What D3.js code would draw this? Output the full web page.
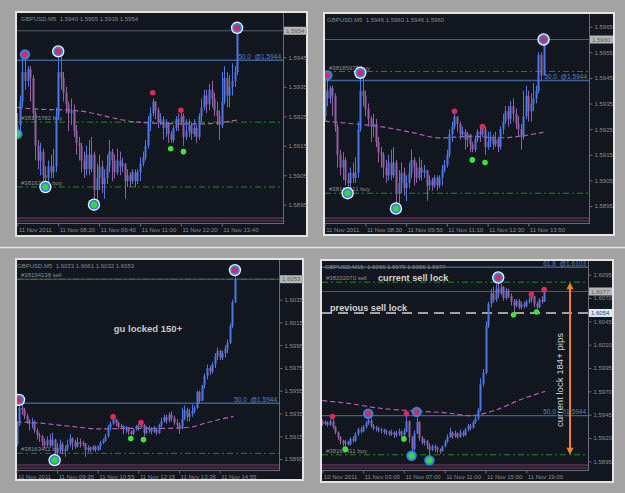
<!DOCTYPE html>
<html><head><meta charset="utf-8">
<script src="https://cdn.jsdelivr.net/npm/d3@7/dist/d3.min.js"></script>
<style>
body{margin:0;background:#a3a3a3;}
svg{display:block}
text{white-space:pre}
</style>
</head><body>
<svg id="c" width="625" height="493"></svg>
<script>
// ---------- DATA ----------
// GBPUSD M5 series (shared by the three M5 screenshots), bar 0 = 11 Nov 07:00
const m5Open0 = 1.5920;
const m5Close = [1.5922,1.5930,1.5940,1.5937,1.5941,1.5938,1.5926,1.5915,1.5910,1.5913,
1.5905,1.5904,1.5908,1.5906,1.5908,1.5925,1.5940,1.5938,1.5933,1.5929,
1.5926,1.5927,1.5920,1.5916,1.5915,1.5910,1.5907,1.5912,1.5907,1.5912,
1.5900,1.5904,1.5908,1.5902,1.5904,1.5908,1.5913,1.5910,1.5906,1.5910,
1.5908,1.5909,1.5903,1.5905,1.5903,1.5906,1.5903,1.5906,1.5909,1.5911,
1.5915,1.5923,1.5926,1.5930,1.5927,1.5923,1.5924,1.5921,1.5923,1.5919,
1.5917,1.5921,1.5924,1.5923,1.5925,1.5918,1.5920,1.5922,1.5919,1.5921,
1.5918,1.5925,1.5928,1.5932,1.5929,1.5934,1.5931,1.5927,1.5925,1.5922,
1.5930,1.5938,1.5932,1.5935,1.5937,1.5940,1.5954,1.5946,1.5960,1.5968,
1.5975,1.5972,1.5978,1.5985,1.5990,1.5984,1.5988,1.5992,1.5997,1.6012,
1.6033,1.6053];
const m5High = [1.5926,1.5932,1.5946,1.5946,1.5942,1.5942,1.5939,1.5927,1.5917,1.5916,
1.5914,1.5908,1.5910,1.5912,1.5914,1.5928,1.5946,1.5947,1.5940,1.5935,
1.5930,1.5931,1.5929,1.5922,1.5918,1.5916,1.5913,1.5915,1.5917,1.5918,
1.5913,1.5909,1.5912,1.5910,1.5907,1.5912,1.5917,1.5914,1.5912,1.5914,
1.5913,1.5911,1.5909,1.5907,1.5906,1.5907,1.5907,1.5907,1.5911,1.5913,
1.5917,1.5925,1.5928,1.5931,1.5930,1.5928,1.5926,1.5925,1.5924,1.5923,
1.5920,1.5922,1.5925,1.5926,1.5926,1.5926,1.5924,1.5924,1.5923,1.5924,
1.5922,1.5926,1.5931,1.5934,1.5934,1.5936,1.5937,1.5933,1.5930,1.5927,
1.5940,1.5942,1.5940,1.5939,1.5943,1.5942,1.5955,1.5955,1.5960,1.5970,
1.5978,1.5977,1.5980,1.5988,1.5993,1.5991,1.5990,1.5995,1.6000,1.6014,
1.6035,1.6061];
const m5Low = [1.5919,1.5920,1.5928,1.5934,1.5935,1.5930,1.5924,1.5910,1.5907,1.5905,
1.5903,1.5901,1.5902,1.5904,1.5904,1.5906,1.5924,1.5934,1.5930,1.5926,
1.5920,1.5922,1.5918,1.5912,1.5910,1.5906,1.5904,1.5905,1.5905,1.5906,
1.5895,1.5896,1.5900,1.5899,1.5897,1.5902,1.5906,1.5903,1.5904,1.5905,
1.5905,1.5906,1.5897,1.5901,1.5901,1.5902,1.5901,1.5902,1.5903,1.5908,
1.5910,1.5914,1.5920,1.5925,1.5924,1.5921,1.5922,1.5917,1.5918,1.5916,
1.5916,1.5916,1.5920,1.5920,1.5922,1.5915,1.5917,1.5918,1.5917,1.5918,
1.5916,1.5917,1.5923,1.5927,1.5926,1.5927,1.5928,1.5925,1.5922,1.5917,
1.5921,1.5929,1.5928,1.5928,1.5932,1.5935,1.5939,1.5944,1.5946,1.5957,
1.5965,1.5969,1.5970,1.5975,1.5982,1.5982,1.5982,1.5984,1.5988,1.5996,
1.6010,1.6032];

// GBPUSD M15 series, bar 0 = 10 Nov 23:00
const m15Open0 = 1.5938;
const m15Close = [1.5935,1.5937,1.5934,1.5938,1.5932,1.5926,1.5921,1.5917,1.5914,1.5916,
1.5913,1.5919,1.5917,1.5924,1.5929,1.5927,1.5932,1.5936,1.5939,1.5933,
1.5930,1.5931,1.5928,1.5929,1.5926,1.5927,1.5924,1.5926,1.5923,1.5925,
1.5927,1.5923,1.5927,1.5938,1.5921,1.5908,1.5925,1.5937,1.5920,1.5915,
1.5917,1.5912,1.5907,1.5911,1.5909,1.5907,1.5906,1.5911,1.5916,1.5921,
1.5926,1.5922,1.5925,1.5921,1.5926,1.5923,1.5929,1.5933,1.5931,1.5937,
1.5941,1.5950,1.5978,1.5990,1.6040,1.6064,1.6075,1.6068,1.6080,1.6075,
1.6082,1.6070,1.6078,1.6072,1.6066,1.6062,1.6067,1.6060,1.6063,1.6061,
1.6066,1.6068,1.6072,1.6064,1.6060,1.6068,1.6066,1.6077];
const m15High = [1.5940,1.5939,1.5938,1.5940,1.5941,1.5933,1.5927,1.5922,1.5918,1.5918,
1.5917,1.5921,1.5922,1.5926,1.5931,1.5932,1.5934,1.5938,1.5945,1.5941,
1.5935,1.5933,1.5932,1.5931,1.5930,1.5929,1.5928,1.5929,1.5927,1.5928,
1.5930,1.5928,1.5930,1.5943,1.5939,1.5922,1.5928,1.5945,1.5938,1.5922,
1.5919,1.5918,1.5914,1.5913,1.5913,1.5911,1.5909,1.5912,1.5918,1.5924,
1.5931,1.5927,1.5928,1.5926,1.5929,1.5928,1.5931,1.5935,1.5935,1.5939,
1.5944,1.5952,1.5984,1.5994,1.6045,1.6066,1.6080,1.6082,1.6085,1.6092,
1.6085,1.6083,1.6081,1.6080,1.6075,1.6069,1.6069,1.6069,1.6066,1.6066,
1.6068,1.6071,1.6074,1.6072,1.6066,1.6070,1.6072,1.6079];
const m15Low = [1.5933,1.5934,1.5932,1.5933,1.5930,1.5924,1.5918,1.5913,1.5911,1.5911,
1.5912,1.5912,1.5915,1.5916,1.5922,1.5925,1.5926,1.5930,1.5934,1.5931,
1.5928,1.5927,1.5926,1.5925,1.5924,1.5923,1.5922,1.5922,1.5920,1.5921,
1.5922,1.5921,1.5921,1.5926,1.5915,1.5903,1.5906,1.5924,1.5917,1.5913,
1.5912,1.5908,1.5899,1.5906,1.5905,1.5904,1.5903,1.5905,1.5910,1.5915,
1.5920,1.5919,1.5920,1.5919,1.5920,1.5921,1.5922,1.5927,1.5928,1.5930,
1.5935,1.5939,1.5948,1.5975,1.5988,1.6038,1.6060,1.6065,1.6066,1.6070,
1.6073,1.6067,1.6068,1.6070,1.6062,1.6055,1.6060,1.6058,1.6058,1.6059,
1.6060,1.6064,1.6065,1.6060,1.6057,1.6059,1.6064,1.6066];

// visible bar ranges [first, last]
const p1Range = [0, 86], p2Range = [2, 88], p3Range = [15, 101], p4Range = [0, 87];

// price axis ticks (the tick hidden under the last-price box is left out)
const p1PriceTicks = [1.5945,1.5935,1.5925,1.5915,1.5905,1.5895];
const p2PriceTicks = [1.5965,1.5955,1.5945,1.5935,1.5925,1.5915,1.5905,1.5895];
const p3PriceTicks = [1.6035,1.6015,1.5995,1.5975,1.5955,1.5935,1.5915,1.5895];
const p4PriceTicks = [1.6095,1.6070,1.6045,1.6020,1.5995,1.5970,1.5945,1.5920,1.5895];

// time axis labels (every 16 bars)
const p1TimeLabels = ["11 Nov 2011","11 Nov 08:20","11 Nov 09:40","11 Nov 11:00","11 Nov 12:20","11 Nov 13:40"];
const p2TimeLabels = ["11 Nov 2011","11 Nov 08:30","11 Nov 09:50","11 Nov 11:10","11 Nov 12:30","11 Nov 13:50"];
const p3TimeLabels = ["11 Nov 2011","11 Nov 09:35","11 Nov 10:55","11 Nov 12:15","11 Nov 13:35","11 Nov 14:55"];
const p4TimeLabels = ["10 Nov 2011","11 Nov 03:00","11 Nov 07:00","11 Nov 11:00","11 Nov 15:00","11 Nov 19:00"];

// moving average [bar, price]
const p1MA = [[0,1.5928],[6,1.59275],[22,1.5927],[47,1.5923],[55,1.59226],[72,1.59224],[86,1.59237]];
const p2MA = [[2,1.59281],[16.6,1.59268],[23,1.59261],[36,1.59238],[47,1.59216],[60,1.59222],[71,1.59216],[79,1.59223],[88,1.59238]];
const p3MA = [[15,1.59275],[21.7,1.5927],[35,1.5924],[48,1.59214],[61,1.5922],[74.4,1.5922],[83.5,1.5923],[90,1.5927],[100.4,1.59325]];
const p4MA = [[0,1.5960],[9,1.59575],[22.4,1.5952],[35.4,1.5949],[48.4,1.5947],[57.9,1.5944],[67,1.5949],[77.6,1.5961],[87.4,1.5970]];

// swing markers [bar, price]
const p1MajorHighs = [[16,1.5947],[86,1.5955]], p1MinorHighs = [[3,1.5946]];
const p1MajorLows = [[11,1.5901],[30,1.5895]], p1MinorLows = [[0,1.5919]];
const p1RedDots = [[53,1.5933],[64,1.5927]], p1GreenDots = [[60,1.5914],[65,1.5913]];
const p2MajorHighs = [[16,1.5947],[88,1.5960]], p2MinorHighs = [[3,1.5946]];
const p2MajorLows = [[11,1.5900],[30,1.5894]], p2MinorLows = [];
const p2RedDots = [[53,1.5932],[64,1.5926]], p2GreenDots = [[60,1.5913],[65,1.5912]];
const p3MajorHighs = [[16,1.5947],[101,1.6061]], p3MinorHighs = [];
const p3MajorLows = [[30,1.5894]], p3MinorLows = [];
const p3RedDots = [[53,1.5932],[64,1.5927]], p3GreenDots = [[60,1.5913],[65,1.5912]];
const p4MajorHighs = [[69,1.6092]], p4MinorHighs = [[18,1.5946],[37,1.5948]];
const p4MajorLows = [], p4MinorLows = [[35,1.5901],[42,1.5896]];
const p4RedDots = [[4,1.5943],[33,1.5946],[82,1.6074],[87,1.6079]];
const p4GreenDots = [[9,1.5908],[32,1.5919],[75,1.6052],[84,1.6055]];

// order lines and fibonacci levels [price, label]
const p1Orders = [[1.5923,"#38175782 buy"],[1.5901,"#38163411 buy"]];
const p2Orders = [[1.59475,"#38185975 buy"],[1.5900,"#38163411 buy"]];
const p3Orders = [[1.6053,"#38194138 sell"],[1.5900,"#38163411 buy"]];
const p4Orders = [[1.6087,"#38202070 sell"],[1.5902,"#38163411 buy"]];
const p1Fibs = [[1.5944,"50.0  @1.5944"]];
const p2Fibs = [[1.5944,"50.0  @1.5944"]];
const p3Fibs = [[1.5944,"50.0  @1.5944"]];
const p4Fibs = [[1.6103,"61.8  @1.6103"],[1.5944,"50.0  @1.5944"]];
const p4PrevLock = 1.6054;

const symbolM5 = "GBPUSD,M5", symbolM15 = "GBPUSD,M15";
const p3Note = "gu locked 150+";
const p4Notes = ["current sell lock", "previous sell lock", "current lock 184+ pips"];

// ---------- DRAWING ----------
const FONT = "'Liberation Sans', Arial, sans-serif";
const svg = d3.select('#c');
const defs = svg.append('defs');
const pat = defs.append('pattern').attr('id','dots').attr('width',4).attr('height',4)
  .attr('patternUnits','userSpaceOnUse');
pat.append('rect').attr('x',1).attr('y',1).attr('width',1).attr('height',1).attr('fill','#2e2434');
pat.append('rect').attr('x',3).attr('y',3).attr('width',1).attr('height',1).attr('fill','#1e2430');

svg.append('rect').attr('width',625).attr('height',493).attr('fill','#a3a3a3');
svg.append('line').attr('x1',0).attr('x2',625).attr('y1',247.5).attr('y2',247.5)
  .attr('stroke','#e6e6e6').attr('stroke-width',1.5);

function makeBars(open0, close, high, low){
  return close.map((c,i)=>({i, o: i===0?open0:close[i-1], h: high[i], l: low[i], c}));
}
const m5Bars = makeBars(m5Open0, m5Close, m5High, m5Low);
const m15Bars = makeBars(m15Open0, m15Close, m15High, m15Low);

const fmt = d3.format('.4f');
let clipN = 0;

function drawPanel(p){
  const g = svg.append('g');
  const [fx,fy,fw,fh] = p.frame;
  const [px0,py0,px1,py1] = p.plot;
  g.append('rect').attr('x',fx+1).attr('y',fy+1).attr('width',fw-2).attr('height',fh-2)
    .attr('fill','#10141c').attr('stroke','#e4e4e4').attr('stroke-width',2);
  g.append('rect').attr('x',fx+2).attr('y',fy+2).attr('width',fw-4).attr('height',fh-4)
    .attr('fill','url(#dots)');

  const x = d3.scaleLinear().domain([p.range[0], p.range[0]+16]).range([p.xStart, p.xStart+16*p.step]);
  const y = d3.scaleLinear().domain([p.cal[0], p.cal[2]]).range([p.cal[1], p.cal[3]]);

  const cid = 'clip'+(clipN++);
  defs.append('clipPath').attr('id',cid).append('rect')
    .attr('x',px0).attr('y',py0).attr('width',px1-px0).attr('height',py1-py0);
  const pg = g.append('g').attr('clip-path',`url(#${cid})`);

  // bottom indicator band
  pg.append('rect').attr('x',px0).attr('y',py1-5).attr('width',px1-px0).attr('height',4).attr('fill','#241a26');
  pg.append('line').attr('x1',px0).attr('x2',px1).attr('y1',py1-5).attr('y2',py1-5).attr('stroke','#7e3c72').attr('stroke-width',1);
  pg.append('line').attr('x1',px0).attr('x2',px1).attr('y1',py1-2).attr('y2',py1-2).attr('stroke','#5c3c5c').attr('stroke-width',1);

  const bars = p.bars.filter(b=>b.i>=p.range[0] && b.i<=p.range[1]);
  const last = bars[bars.length-1];

  // current price line
  pg.append('line').attr('x1',px0).attr('x2',px1).attr('y1',y(last.c)).attr('y2',y(last.c))
    .attr('stroke',p.lastLineColor||'#585a6e').attr('stroke-width',1);
  // fib lines
  p.fibs.forEach(([v])=>{
    pg.append('line').attr('x1',px0).attr('x2',px1).attr('y1',y(v)).attr('y2',y(v))
      .attr('stroke','#3f5f94').attr('stroke-width',1.3);
  });
  // order lines
  p.orders.forEach(([v])=>{
    pg.append('line').attr('x1',px0).attr('x2',px1).attr('y1',y(v)).attr('y2',y(v))
      .attr('stroke','#1d8a24').attr('stroke-width',1).attr('stroke-dasharray','6,3,2,3');
  });
  if (p.prevLock){
    pg.append('line').attr('x1',px0).attr('x2',px1).attr('y1',y(p.prevLock)).attr('y2',y(p.prevLock))
      .attr('stroke','#cfcfcf').attr('stroke-width',1.5).attr('stroke-dasharray','10,6');
  }
  // order labels
  p.orders.forEach(([v,t])=>{
    pg.append('text').attr('x',px0+4).attr('y',y(v)-2).text(t)
      .attr('font-family',FONT).attr('font-size',6).attr('fill','#8c8c8c');
  });
  // fib labels
  p.fibs.forEach(([v,t])=>{
    pg.append('text').attr('x',px1-2).attr('y',y(v)-1.5).attr('text-anchor','end').text(t)
      .attr('font-family',FONT).attr('font-size',6.5).attr('fill','#5a82c4');
  });

  // moving average
  const maLine = d3.line().x(d=>x(d[0])).y(d=>y(d[1])).curve(d3.curveMonotoneX);
  pg.append('path').attr('d',maLine(p.ma)).attr('fill','none')
    .attr('stroke','#b55fb5').attr('stroke-width',1.2).attr('stroke-dasharray','5,3');

  // candles
  const cg = pg.append('g');
  bars.forEach(b=>{
    const col = b.c>b.o ? '#4a78e4' : (b.c<b.o ? '#94609f' : '#8a8a9a');
    const cx = Math.round(x(b.i))+0.5;
    cg.append('line').attr('x1',cx).attr('x2',cx).attr('y1',y(b.h)).attr('y2',y(b.l))
      .attr('stroke',col).attr('stroke-width',1);
    const top = y(Math.max(b.o,b.c)), bot = y(Math.min(b.o,b.c));
    cg.append('rect').attr('x',cx-1).attr('y',top).attr('width',2).attr('height',Math.max(1,bot-top))
      .attr('fill',col);
  });

  // markers
  const mg = pg.append('g');
  function ring(list, center, major){
    list.forEach(([i,v])=>{
      const cx = x(i), cy = y(v);
      if (major) mg.append('circle').attr('cx',cx).attr('cy',cy).attr('r',6.2).attr('fill','#f4f4f4');
      mg.append('circle').attr('cx',cx).attr('cy',cy).attr('r',major?4.9:5.2).attr('fill','#2f86ea');
      mg.append('circle').attr('cx',cx).attr('cy',cy).attr('r',3.1).attr('fill',center);
    });
  }
  ring(p.minorHighs,'#d8285c',false);
  ring(p.minorLows,'#36d83a',false);
  ring(p.majorHighs,'#d8285c',true);
  ring(p.majorLows,'#36d83a',true);
  p.redDots.forEach(([i,v])=>mg.append('circle').attr('cx',x(i)).attr('cy',y(v)).attr('r',2.8).attr('fill','#dc2a5a'));
  p.greenDots.forEach(([i,v])=>mg.append('circle').attr('cx',x(i)).attr('cy',y(v)).attr('r',2.8).attr('fill','#3ee43e'));

  // plot borders
  g.append('line').attr('x1',px1+0.5).attr('x2',px1+0.5).attr('y1',py0).attr('y2',py1+1)
    .attr('stroke','#6c6c78');
  g.append('line').attr('x1',px0).attr('x2',px1+1).attr('y1',py1+0.5).attr('y2',py1+0.5)
    .attr('stroke','#6c6c78');

  // price axis
  const ya = g.append('g').attr('transform',`translate(${px1+0.5},0)`)
    .call(d3.axisRight(y).tickValues(p.priceTicks).tickFormat(fmt).tickSize(3).tickPadding(2));
  ya.select('.domain').remove();
  ya.selectAll('line').attr('stroke','#6c6c78');
  ya.selectAll('text').attr('font-family',FONT).attr('font-size',6).attr('fill','#8e8e8e');

  // time axis
  const tv = p.timeLabels.map((_,k)=>p.range[0]+16*k);
  const xa = g.append('g').attr('transform',`translate(0,${py1+0.5})`)
    .call(d3.axisBottom(x).tickValues(tv).tickFormat((d,k)=>p.timeLabels[k]).tickSize(3).tickPadding(1));
  xa.select('.domain').remove();
  xa.selectAll('line').attr('stroke','#6c6c78');
  xa.selectAll('text').attr('font-family',FONT).attr('font-size',6).attr('fill','#8e8e8e')
    .attr('text-anchor','start').attr('dx',1);

  // header
  g.append('text').attr('x',p.headerX).attr('y',py0+8)
    .text(`${p.symbol}  ${fmt(last.o)} ${fmt(last.h)} ${fmt(last.l)} ${fmt(last.c)}`)
    .attr('font-family',FONT).attr('font-size',6).attr('fill','#8a8a8a');

  // price label boxes
  function box(v, fill, tcol){
    const by = y(v);
    g.append('rect').attr('x',px1+1).attr('y',by-4).attr('width',23).attr('height',8).attr('fill',fill);
    g.append('text').attr('x',px1+3).attr('y',by+2.2).text(fmt(v))
      .attr('font-family',FONT).attr('font-size',6).attr('fill',tcol);
  }
  box(last.c,'#b6b6b6','#5e5e5e');
  if (p.prevLock) box(p.prevLock,'#dde9f7','#2a3a60');

  return {g,x,y};
}

// panel 1
drawPanel({frame:[15,11,293,226], plot:[17,13,283,223], xStart:17.3, step:2.556,
  cal:[1.5895,204.7,1.5945,57.3], range:p1Range, bars:m5Bars, priceTicks:p1PriceTicks,
  timeLabels:p1TimeLabels, ma:p1MA, majorHighs:p1MajorHighs, minorHighs:p1MinorHighs,
  majorLows:p1MajorLows, minorLows:p1MinorLows, redDots:p1RedDots, greenDots:p1GreenDots,
  orders:p1Orders, fibs:p1Fibs, symbol:symbolM5, headerX:21});

// panel 2
drawPanel({frame:[323,12,292,224], plot:[325,14,589,223], xStart:324.7, step:2.545,
  cal:[1.5895,206,1.5965,26.7], range:p2Range, bars:m5Bars, priceTicks:p2PriceTicks,
  timeLabels:p2TimeLabels, ma:p2MA, majorHighs:p2MajorHighs, minorHighs:p2MinorHighs,
  majorLows:p2MajorLows, minorLows:p2MinorLows, redDots:p2RedDots, greenDots:p2GreenDots,
  orders:p2Orders, fibs:p2Fibs, symbol:symbolM5, headerX:327});

// panel 3
const P3 = drawPanel({frame:[15,258,289,223], plot:[17,260,279,470], xStart:16.5, step:2.54,
  cal:[1.5895,459,1.6035,299.7], range:p3Range, bars:m5Bars, priceTicks:p3PriceTicks,
  timeLabels:p3TimeLabels, ma:p3MA, majorHighs:p3MajorHighs, minorHighs:p3MinorHighs,
  majorLows:p3MajorLows, minorLows:p3MinorLows, redDots:p3RedDots, greenDots:p3GreenDots,
  orders:p3Orders, fibs:p3Fibs, symbol:symbolM5, headerX:17});
P3.g.append('text').attr('x',148).attr('y',332).attr('text-anchor','middle').text(p3Note)
  .attr('font-family',FONT).attr('font-size',9.5).attr('font-weight','bold').attr('fill','#c9c9c9');

// panel 4
const P4 = drawPanel({frame:[320,259,294,224], plot:[322,261,588,470], xStart:322.3, step:2.55,
  cal:[1.5895,461.3,1.6095,274.7], range:p4Range, bars:m15Bars, priceTicks:p4PriceTicks,
  timeLabels:p4TimeLabels, ma:p4MA, majorHighs:p4MajorHighs, minorHighs:p4MinorHighs,
  majorLows:p4MajorLows, minorLows:p4MinorLows, redDots:p4RedDots, greenDots:p4GreenDots,
  orders:p4Orders, fibs:p4Fibs, symbol:symbolM15, headerX:325, prevLock:p4PrevLock,
  lastLineColor:'#6a4c80'});
{
  const g = P4.g, y = P4.y;
  g.append('text').attr('x',378).attr('y',y(p4Orders[0][0])-1.5).text(p4Notes[0])
    .attr('font-family',FONT).attr('font-size',9.2).attr('font-weight','bold').attr('fill','#d2d2d2');
  g.append('text').attr('x',330).attr('y',y(p4PrevLock)-1.5).text(p4Notes[1])
    .attr('font-family',FONT).attr('font-size',9.2).attr('font-weight','bold').attr('fill','#d2d2d2');
  g.append('text').attr('transform','translate(563,380) rotate(-90)').attr('text-anchor','middle')
    .text(p4Notes[2]).attr('font-family',FONT).attr('font-size',9.6).attr('fill','#d6d6d6')
    .attr('stroke','#10141c').attr('stroke-width',2).attr('paint-order','stroke');
  const ax = 570, yTop = y(p4Orders[0][0]), yBot = y(p4Orders[1][0]);
  g.append('line').attr('x1',ax).attr('x2',ax).attr('y1',yTop+5).attr('y2',yBot-5)
    .attr('stroke','#f0841f').attr('stroke-width',2);
  g.append('path').attr('d',`M${ax},${yTop} L${ax-3.5},${yTop+7} L${ax+3.5},${yTop+7} Z`).attr('fill','#f0841f');
  g.append('path').attr('d',`M${ax},${yBot} L${ax-3.5},${yBot-7} L${ax+3.5},${yBot-7} Z`).attr('fill','#f0841f');
}
</script>
</body></html>
